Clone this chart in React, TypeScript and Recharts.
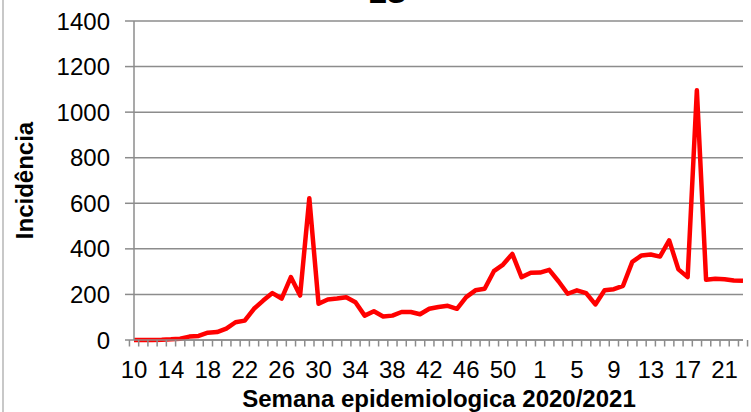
import React from 'react';
import { LineChart, Line, XAxis, YAxis, CartesianGrid, Customized } from 'recharts';

const weeks: string[] = [
  '10','11','12','13','14','15','16','17','18','19','20','21','22','23','24','25','26','27','28','29',
  '30','31','32','33','34','35','36','37','38','39','40','41','42','43','44','45','46','47','48','49',
  '50','51','52','53',
  '1','2','3','4','5','6','7','8','9','10','11','12','13','14','15','16','17','18','19','20','21','22','23',
];

const incidence: number[] = [
  0, 0, 0, 1, 3, 6, 15, 18, 32, 35,
  50, 78, 85, 137, 173, 206, 182, 276, 195, 622,
  159, 178, 182, 188, 166, 107, 126, 103, 107, 123,
  123, 113, 137, 145, 150, 137, 188, 218, 225, 302,
  331, 378, 276, 295, 296, 308, 258, 203, 218, 206,
  156, 218, 223, 238, 343, 371, 375, 366, 437, 310,
  276, 1096, 264, 269, 267, 261, 260,
];

const yTicks: number[] = [0, 200, 400, 600, 800, 1000, 1200, 1400];

const data = weeks.map((w, i) => ({ key: i, week: w, value: incidence[i] }));

const W = 751;
const H = 412;
const MARGIN = { top: 21, right: 8, left: 0, bottom: 0 };
const Y_AXIS_W = 134;
const X_AXIS_H = 72;
const PLOT_W = W - MARGIN.left - MARGIN.right - Y_AXIS_W;
const BAND = PLOT_W / weeks.length;
const FONT = '"Liberation Sans", Arial, sans-serif';
const GRID = '#8c8c8c';

const XTick = (props: any) => {
  const { x, y, payload, index } = props;
  const i = typeof payload?.index === 'number' ? payload.index : index;
  const label = weeks[i];
  const isLast = i === weeks.length - 1;
  return (
    <g>
      <line x1={x - BAND / 2} x2={x - BAND / 2} y1={y} y2={y + 6.5} stroke={GRID} strokeWidth={1.5} />
      {isLast && (
        <line x1={x + BAND / 2} x2={x + BAND / 2} y1={y} y2={y + 6.5} stroke={GRID} strokeWidth={1.5} />
      )}
      {i % 4 === 0 && (
        <text x={x} y={y + 38} textAnchor="middle" fontSize={24} fill="#000" fontFamily={FONT}>
          {label}
        </text>
      )}
    </g>
  );
};

const Texts = () => (
  <g fontFamily={FONT}>
    <text x={387} y={3} textAnchor="middle" fontSize={28} fontWeight="bold" fill="#000">ES</text>
    <text
      x={33}
      y={180.5}
      textAnchor="middle"
      fontSize={24}
      fontWeight="bold"
      fill="#000"
      transform="rotate(-90, 33, 180.5)"
    >
      Incidência
    </text>
    <text x={439} y={407} textAnchor="middle" fontSize={24} fontWeight="bold" fill="#000">
      Semana epidemiologica 2020/2021
    </text>
  </g>
);

export default function App() {
  return (
    <div style={{ position: 'absolute', left: 0, top: 0, width: W, height: H, background: '#fff' }}>
      <div style={{ position: 'absolute', left: 2, top: 0, width: 1.5, height: H, background: '#c8c8c8' }} />
      <LineChart width={W} height={H} data={data} margin={MARGIN}>
        <CartesianGrid vertical={false} stroke={GRID} strokeWidth={1.5} />
        <XAxis
          dataKey="key"
          type="category"
          height={X_AXIS_H}
          interval={0}
          tickLine={false}
          tickSize={0}
          tickMargin={0}
          axisLine={{ stroke: GRID, strokeWidth: 1.5 }}
          tick={<XTick />}
        />
        <YAxis
          width={Y_AXIS_W}
          domain={[0, 1400]}
          ticks={yTicks}
          interval={0}
          tickSize={9}
          tickMargin={15}
          tickLine={{ stroke: GRID, strokeWidth: 1.5 }}
          axisLine={{ stroke: GRID, strokeWidth: 1.5 }}
          tick={{ fontSize: 24, fill: '#000', fontFamily: FONT }}
        />
        <Line
          type="linear"
          dataKey="value"
          stroke="#ff0000"
          strokeWidth={4.5}
          dot={false}
          strokeLinejoin="round"
          isAnimationActive={false}
        />
        <Customized component={Texts} />
      </LineChart>
    </div>
  );
}
